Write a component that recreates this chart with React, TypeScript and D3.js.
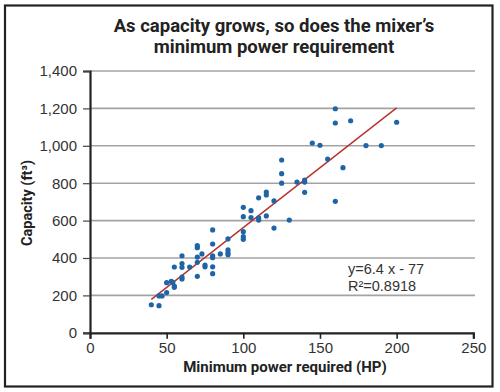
import React, { useEffect, useRef } from 'react';
import * as d3 from 'd3';

// horsepower (x) and capacity in ft3 (y)
const powerHP: number[] = [
  40, 45, 45, 47, 50, 50, 53, 54, 55, 55, 55, 60, 60, 60, 60, 60, 65, 70, 70,
  70, 70, 70, 73, 75, 75, 80, 80, 80, 80, 80, 80, 85, 90, 90, 90, 90, 100, 100,
  100, 100, 100, 105, 105, 110, 110, 110, 115, 115, 115, 120, 120, 125, 125,
  125, 130, 135, 140, 140, 140, 145, 150, 155, 160, 160, 160, 165, 170, 180,
  190, 200,
];
const capacityFt3: number[] = [
  150, 145, 197, 197, 215, 268, 275, 270, 250, 243, 352, 288, 298, 350, 370,
  412, 352, 302, 377, 405, 455, 466, 422, 362, 353, 316, 353, 402, 412, 475,
  550, 422, 418, 428, 443, 502, 500, 514, 541, 621, 671, 616, 653, 603, 615,
  722, 625, 737, 753, 560, 705, 800, 851, 924, 603, 806, 806, 817, 751, 1015,
  1003, 929, 1198, 1122, 703, 883, 1134, 1001, 1001, 1126,
];

const xTicks: number[] = [0, 50, 100, 150, 200, 250];
const yTicks: number[] = [0, 200, 400, 600, 800, 1000, 1200, 1400];

// linear fit shown on the chart
const trendSlope = 6.4;
const trendIntercept = -77;
const trendLabel = ['y=6.4 x - 77', 'R²=0.8918'];

const titleLines = ['As capacity grows, so does the mixer’s', 'minimum power requirement'];

const ScatterChart: React.FC = () => {
  const chartRef = useRef<SVGSVGElement>(null);

  useEffect(() => {
    const svg = d3.select(chartRef.current);
    svg.selectAll('*').remove();

    const x = d3.scaleLinear().domain([0, 250]).range([90, 473.3]);
    const y = d3.scaleLinear().domain([0, 1400]).range([332.8, 71]);

    // outer frame
    svg
      .append('rect')
      .attr('x', 5)
      .attr('y', 5.5)
      .attr('width', 487.5)
      .attr('height', 381)
      .attr('fill', 'white')
      .attr('stroke', '#222')
      .attr('stroke-width', 2.2);

    // title
    svg
      .append('text')
      .attr('text-anchor', 'middle')
      .attr('font-family', 'Roboto, sans-serif')
      .attr('font-weight', 'bold')
      .attr('font-size', 18.5)
      .attr('fill', '#222')
      .selectAll('tspan')
      .data(titleLines)
      .join('tspan')
      .attr('x', 274)
      .attr('y', (_, i) => 32 + i * 21)
      .text((d) => d);

    // gridlines
    svg
      .append('g')
      .selectAll('line')
      .data(yTicks.filter((t) => t > 0))
      .join('line')
      .attr('x1', 90)
      .attr('x2', 475)
      .attr('y1', (d) => y(d))
      .attr('y2', (d) => y(d))
      .attr('stroke', '#a3a3a3')
      .attr('stroke-width', 1.6);

    // y axis
    const yAxis = svg
      .append('g')
      .attr('transform', 'translate(90,0)')
      .call(
        d3
          .axisLeft(y)
          .tickValues(yTicks)
          .tickSize(7)
          .tickPadding(6)
          .tickFormat((d) => d3.format(',')(d as number))
      );
    yAxis.select('.domain').attr('stroke', '#222').attr('stroke-width', 2.2);
    yAxis.selectAll('.tick line').attr('stroke', '#444').attr('stroke-width', 1.2);

    // x axis
    const xAxis = svg
      .append('g')
      .attr('transform', 'translate(0,332.8)')
      .call(d3.axisBottom(x).tickValues(xTicks).tickSize(6).tickPadding(4));
    xAxis.select('.domain').attr('stroke', '#222').attr('stroke-width', 2.2);
    xAxis.selectAll('.tick line').attr('stroke', '#222').attr('stroke-width', 1.6);

    svg
      .selectAll('.tick text')
      .attr('font-family', '"Liberation Sans", Arial, sans-serif')
      .attr('font-size', 15)
      .attr('fill', '#333');

    // axis titles
    svg
      .append('text')
      .attr('x', 285)
      .attr('y', 372)
      .attr('text-anchor', 'middle')
      .attr('font-family', 'Roboto, sans-serif')
      .attr('font-weight', 'bold')
      .attr('font-size', 15)
      .attr('fill', '#222')
      .text('Minimum power required (HP)');

    svg
      .append('text')
      .attr('transform', 'translate(32,203) rotate(-90)')
      .attr('text-anchor', 'middle')
      .attr('font-family', 'Roboto, sans-serif')
      .attr('font-weight', 'bold')
      .attr('font-size', 14.5)
      .attr('fill', '#222')
      .text('Capacity (ft³)');

    // trend line
    const [xMin, xMax] = d3.extent(powerHP) as [number, number];
    svg
      .append('line')
      .attr('x1', x(xMin))
      .attr('y1', y(trendSlope * xMin + trendIntercept))
      .attr('x2', x(xMax))
      .attr('y2', y(trendSlope * xMax + trendIntercept))
      .attr('stroke', '#b8312a')
      .attr('stroke-width', 1.4);

    // points
    svg
      .append('g')
      .selectAll('circle')
      .data(powerHP.map((p, i) => ({ p, c: capacityFt3[i] })))
      .join('circle')
      .attr('cx', (d) => x(d.p))
      .attr('cy', (d) => y(d.c))
      .attr('r', 2.6)
      .attr('fill', '#1f64a6');

    // equation label, one text per line
    svg
      .append('g')
      .selectAll('text')
      .data(trendLabel)
      .join('text')
      .attr('font-family', '"Liberation Sans", Arial, sans-serif')
      .attr('font-size', 14.5)
      .attr('fill', '#333')
      .attr('x', 348)
      .attr('y', (_, i) => 274 + i * 16.5)
      .text((d) => d);
  }, []);

  return (
    <svg
      ref={chartRef}
      width={500}
      height={392}
      style={{ position: 'absolute', top: 0, left: 0, background: 'white' }}
    ></svg>
  );
};

export default function App() {
  return <ScatterChart />;
}
